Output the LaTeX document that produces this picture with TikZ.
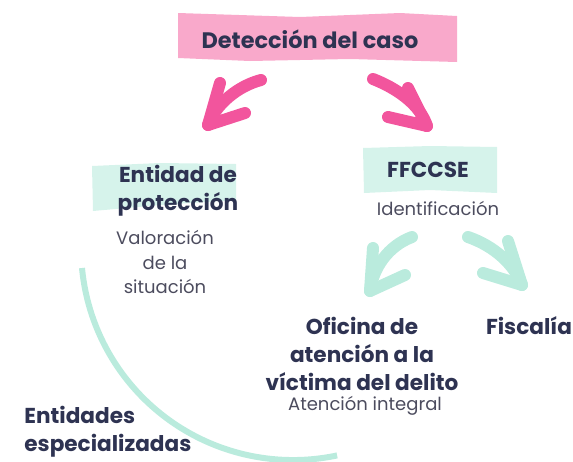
\documentclass[tikz,border=0pt]{standalone}
\usepackage{fontspec}
\setmainfont{Poppins}
\usetikzlibrary{positioning}

\definecolor{rosa}{HTML}{F9A9CB}
\definecolor{rosafuerte}{HTML}{F2559D}
\definecolor{menta}{HTML}{D6F3EB}
\definecolor{mentafuerte}{HTML}{BAEBDD}
\definecolor{tinta}{HTML}{2E3352}
\definecolor{gris}{HTML}{4C4C5E}

\tikzset{
	titulo/.style={font=\bfseries\fontsize{10.8}{14}\selectfont, text=tinta, align=center, inner sep=0pt},
	detalle/.style={font=\fontsize{9}{12.3}\selectfont, text=gris, align=center, inner sep=0pt},
	flecharosa/.style={draw=rosafuerte, line width=6pt, line cap=round, line join=round},
	flechamenta/.style={draw=mentafuerte, line width=6pt, line cap=round, line join=round}
}

\begin{document}
\begin{tikzpicture}[x=0.5pt,y=-0.5pt]
		\useasboundingbox (0,0) rectangle (573,461);

		% fondos pintados
		\fill[rosa] (178,13)--(300,17)--(400,13)--(457,16)--(457,62)--(350,59)--(250,61)--(178,58)--cycle;
		\fill[menta] (92,166)--(160,163)--(236,164)--(236,200)--(160,205)--(93,211)--cycle;
		\fill[menta] (363,148)--(430,146)--(497,147)--(497,193)--(430,190)--(364,193)--cycle;

		% textos
		\node[titulo, font=\bfseries\fontsize{11.2}{14}\selectfont] (deteccion) at (310,39) {Detección del caso};
		\node[titulo] (entidad) at (178,191) {Entidad de\\protección};
		\node[detalle] (valoracion) at (165,262) {Valoración\\de la\\situación};
		\node[titulo] (ffccse) at (428,170) {FFCCSE};
		\node[detalle] (identificacion) at (438,208) {Identificación};
		\node[titulo] (oficina) at (362,354) {Oficina de\\atención a la\\víctima del delito};
		\node[detalle] (atencion) at (365,406) {Atención integral};
		\node[titulo] (fiscalia) at (529,326) {Fiscalía};
		\node[titulo, align=left, anchor=west] (especializadas) at (24,432) {Entidades\\especializadas};

		% flechas rosas
		\coordinate (r1a) at (261,80);
		\coordinate (r1b) at (208,125);
		\draw[flecharosa] (r1a) .. controls (238,86) and (216,104) .. (r1b);
		\draw[flecharosa] (220,83)--(r1b)--(245,113);
		\coordinate (r2a) at (373,79);
		\coordinate (r2b) at (427,126);
		\draw[flecharosa] (r2a) .. controls (396,88) and (420,104) .. (r2b);
		\draw[flecharosa] (408,88)--(r2b)--(388,117);

		% flechas menta
		\coordinate (m1a) at (412,237);
		\coordinate (m1b) at (370,291);
		\draw[flechamenta] (m1a) .. controls (388,246) and (373,268) .. (m1b);
		\draw[flechamenta] (373,248)--(m1b)--(405,275);
		\coordinate (m2a) at (468,237);
		\coordinate (m2b) at (522,285);
		\draw[flechamenta] (m2a) .. controls (494,246) and (514,264) .. (m2b);
		\draw[flechamenta] (508,241)--(m2b)--(483,273);

		% arco
		\coordinate (arco) at (82,268);
		\draw[mentafuerte, line width=3pt] (arco) arc[start angle=174.6, end angle=78, radius=212];
	\end{tikzpicture}
\end{document}
